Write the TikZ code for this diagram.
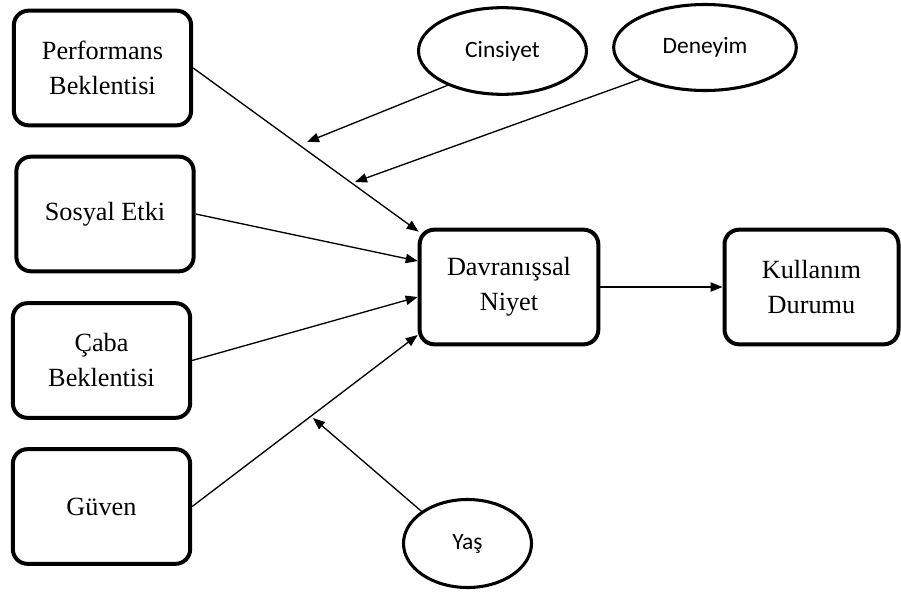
\documentclass[tikz,border=0pt]{standalone}
\usepackage{fontspec}
\setmainfont{Liberation Serif}
\newfontfamily\ovalfont{Carlito}
\usetikzlibrary{arrows.meta,shapes.geometric,calc}
\begin{document}
\begin{tikzpicture}[x=0.75pt,y=-0.75pt,
  factor/.style={draw,line width=3pt,rounded corners=11pt,minimum width=133pt,
    minimum height=86pt,inner sep=0pt,align=center,
    font=\fontsize{19.7}{26.25}\selectfont},
  moderator/.style={draw,ellipse,line width=2.3pt,inner sep=0pt,
    font=\ovalfont\fontsize{17.6}{21}\selectfont},
  link/.style={line width=1pt,-{Triangle[length=9pt,width=7pt]}}]
\useasboundingbox (0,0) rectangle (901,596);

% predictors
\node[factor] (perf) at (102.5,68)  {Performans\\Beklentisi};
\node[factor] (sos)  at (105,214)   {Sosyal Etki};
\node[factor] (caba) at (101.5,360.5) {Çaba\\Beklentisi};
\node[factor] (guv)  at (101.5,506.5) {Güven};

% intention and use
\node[factor,minimum width=134pt] (dav) at (509,287) {Davranışsal\\Niyet};
\node[factor,minimum width=130.5pt] (kul) at (811.5,287) {Kullanım\\Durumu};

% moderators
\node[moderator,minimum width=126pt,minimum height=65pt] (cins) at (502.5,51) {Cinsiyet};
\node[moderator,minimum width=137pt,minimum height=64.5pt] (den) at (705,47.5) {Deneyim};
\node[moderator,minimum width=96pt,minimum height=66pt] (yas) at (467.5,543.5) {Yaş};

% moderator targets on the paths
\coordinate (mcins) at (307,142);
\coordinate (mden)  at (355,182);
\coordinate (myas)  at (313,418);

% paths to intention
\draw[link] (perf.east) -- ($(dav.north west)+(1,4)$);
\draw[link] (sos.east)  -- ($(dav.west)+(0,-26)$);
\draw[link] (caba.east) -- ($(dav.west)+(0,10)$);
\draw[link] (guv.east)  -- ($(dav.west)+(0,48)$);
\draw[link] (dav.east)  -- (kul.west);

% moderating effects
\draw[link] (cins.212) -- (mcins);
\draw[link] (den.206)  -- (mden);
\draw[link] (yas.145)  -- (myas);
\end{tikzpicture}
\end{document}
